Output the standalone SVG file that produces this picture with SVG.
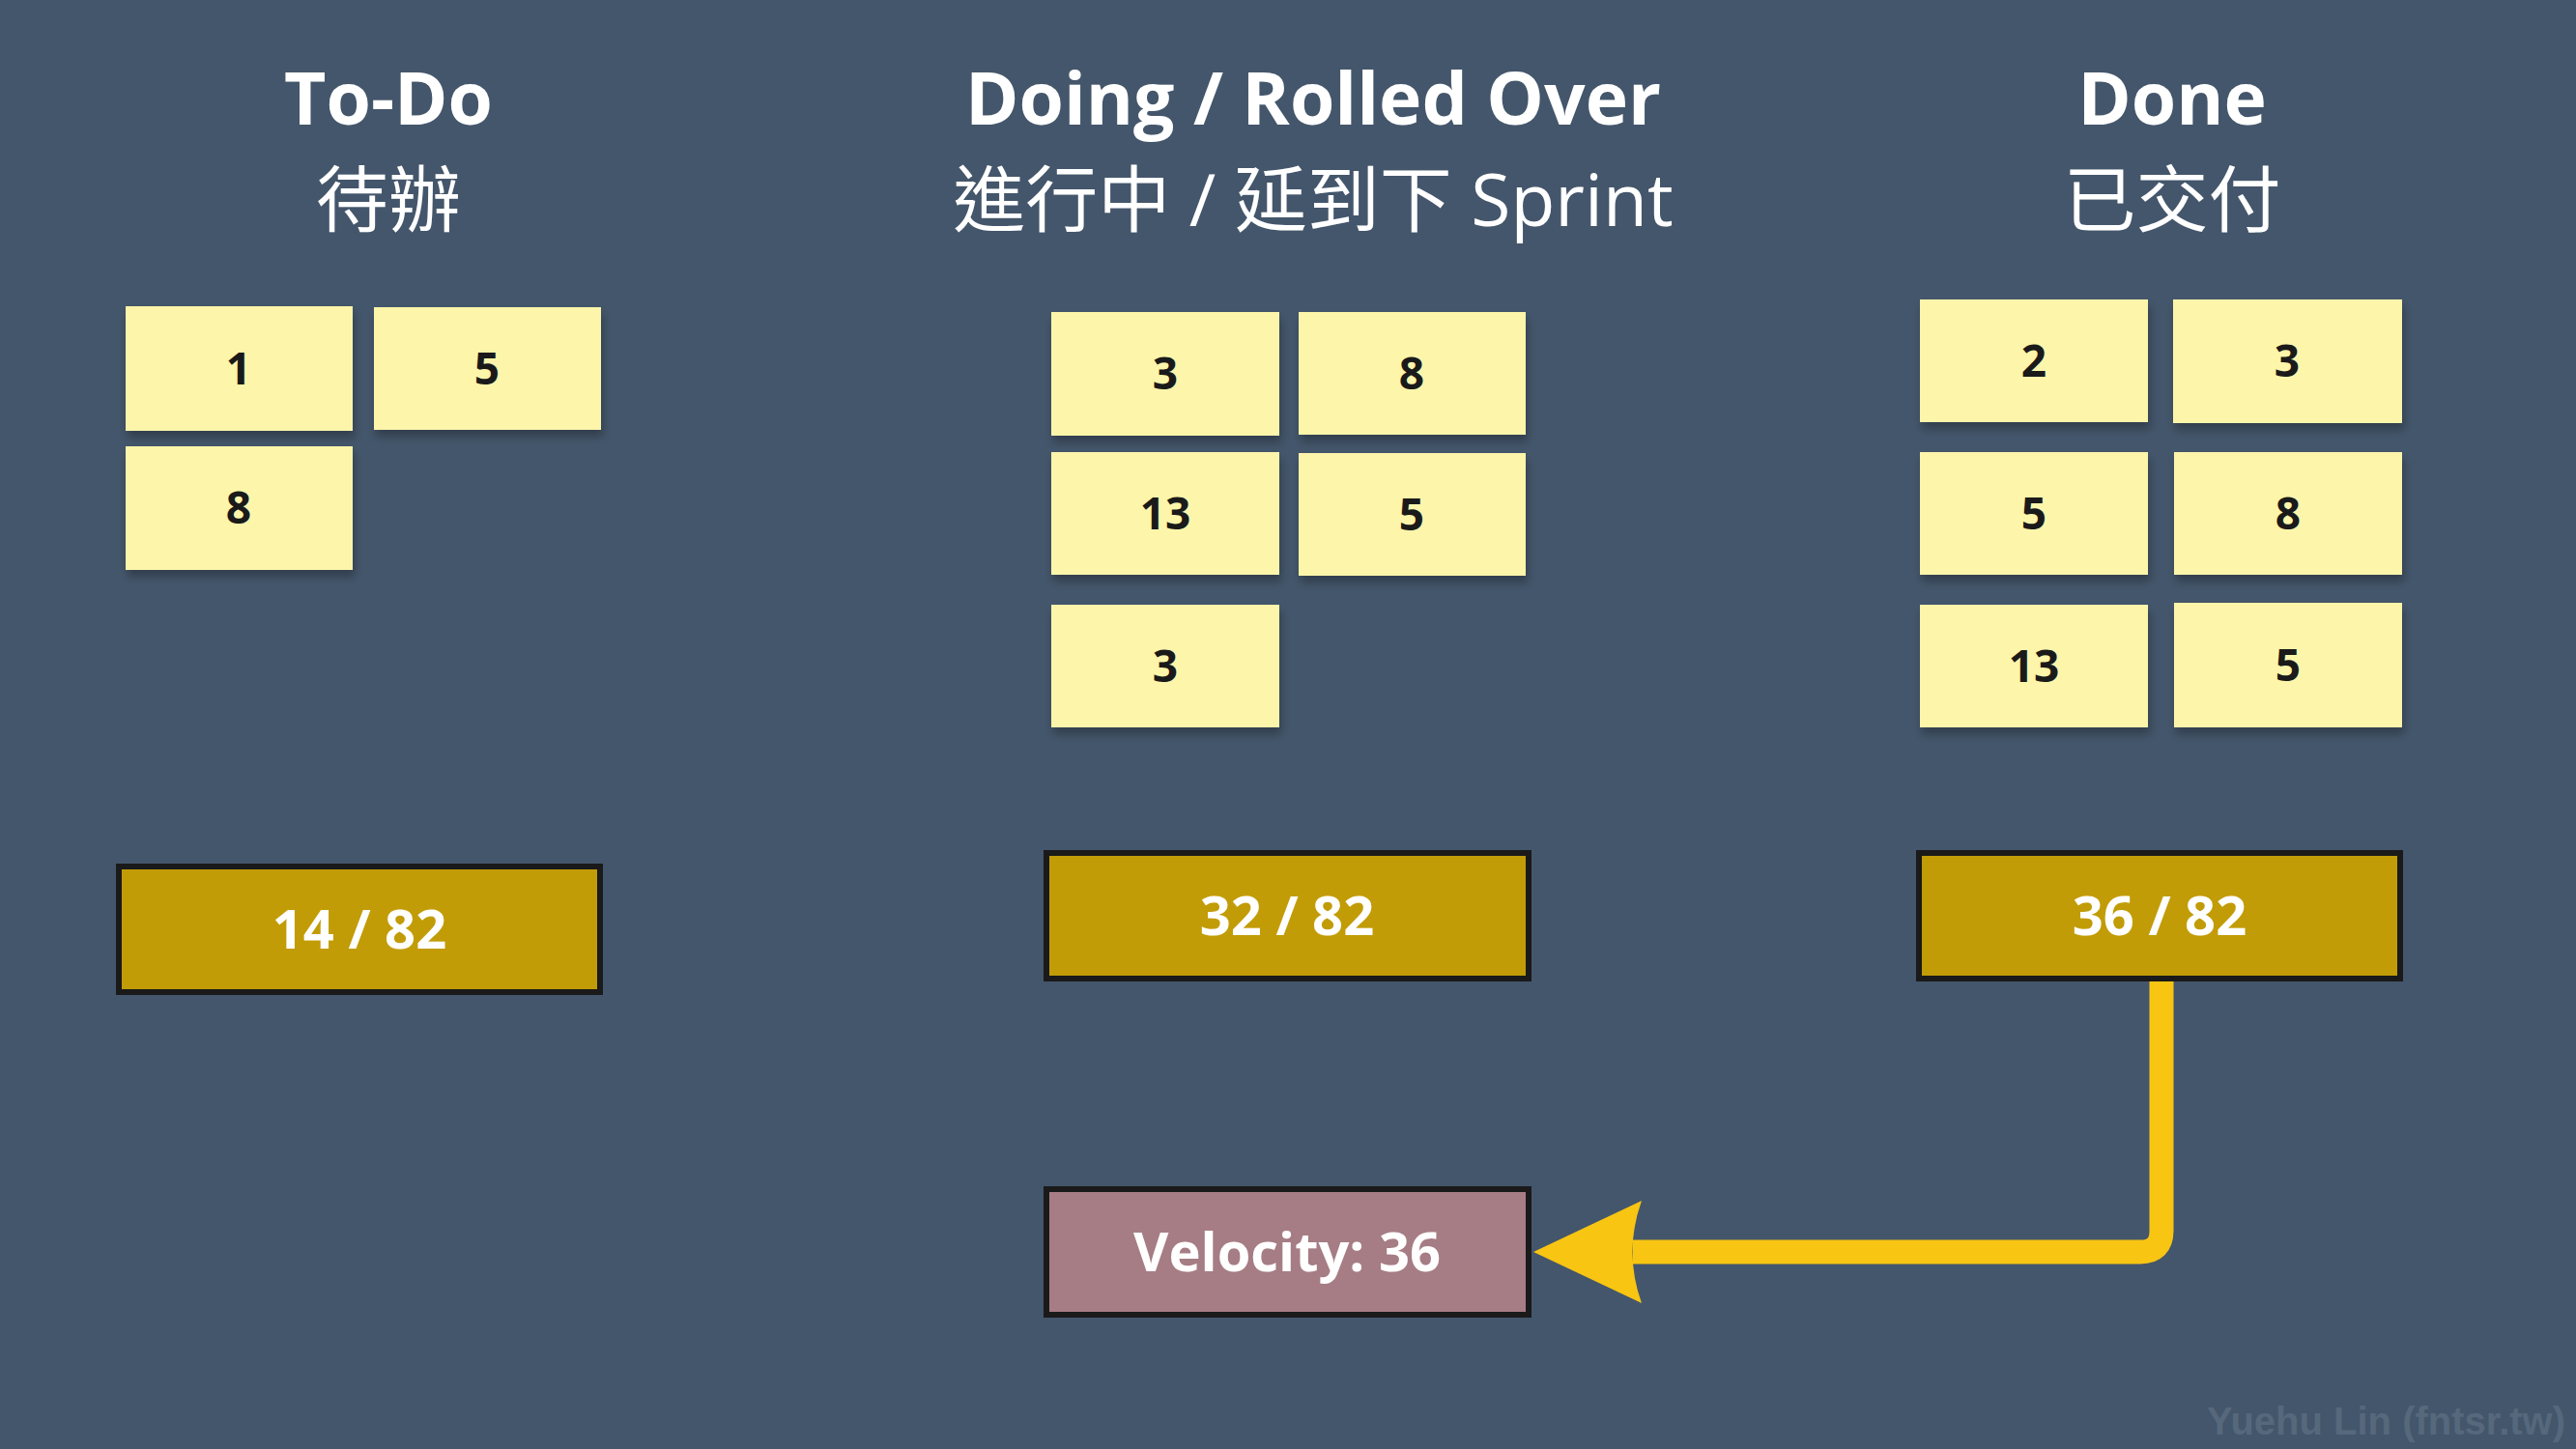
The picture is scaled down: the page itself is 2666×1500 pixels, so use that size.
<svg xmlns="http://www.w3.org/2000/svg" width="2666" height="1500" viewBox="0 0 2666 1500">
<defs>
<style>
.title{font-family:"Open Sans","Noto Sans",sans-serif;font-weight:700;font-size:75px;fill:#ffffff;text-anchor:middle}
.sub{font-family:"Open Sans","Noto Sans CJK TC","Noto Sans",sans-serif;font-weight:400;font-size:75px;fill:#ffffff;text-anchor:middle}
.note rect{fill:#fcf5aa;filter:url(#sh)}
.note text{font-family:"Open Sans","Noto Sans",sans-serif;font-weight:700;font-size:46px;fill:#1a1a1a;text-anchor:middle}
.sum rect{fill:#c29c07;stroke:#1a1a1a;stroke-width:6}
.vel rect{fill:#a67d84;stroke:#1a1a1a;stroke-width:6}
.sum text,.vel text{font-family:"Open Sans","Noto Sans",sans-serif;font-weight:700;font-size:56px;fill:#ffffff;text-anchor:middle}
.wm{font-family:"Liberation Sans",Arial,sans-serif;font-weight:700;font-size:40px;fill:#56687c;text-anchor:end}
</style>
<filter id="sh" x="-10%" y="-10%" width="120%" height="130%">
<feDropShadow dx="2" dy="7" stdDeviation="5" flood-color="#000000" flood-opacity="0.28"/>
</filter>
</defs>
<rect x="0" y="0" width="2666" height="1500" fill="#44566b"/>

<g id="header-todo">
<text class="title" x="402" y="129">To-Do</text>
<text class="sub" x="402" y="234">待辦</text>
</g>
<g id="header-doing">
<text class="title" x="1359" y="129">Doing / Rolled Over</text>
<text class="sub" x="1359" y="234">進行中 / 延到下 Sprint</text>
</g>
<g id="header-done">
<text class="title" x="2248" y="129">Done</text>
<text class="sub" x="2248" y="234">已交付</text>
</g>

<g id="todo-1" class="note"><rect x="130" y="317" width="235" height="129"/><text x="247" y="398">1</text></g>
<g id="todo-5" class="note"><rect x="387" y="318" width="235" height="127"/><text x="504" y="398">5</text></g>
<g id="todo-8" class="note"><rect x="130" y="462" width="235" height="128"/><text x="247" y="542">8</text></g>

<g id="doing-3a" class="note"><rect x="1088" y="323" width="236" height="128"/><text x="1206" y="403">3</text></g>
<g id="doing-8" class="note"><rect x="1344" y="323" width="235" height="127"/><text x="1461" y="403">8</text></g>
<g id="doing-13" class="note"><rect x="1088" y="468" width="236" height="127"/><text x="1206" y="548">13</text></g>
<g id="doing-5" class="note"><rect x="1344" y="469" width="235" height="127"/><text x="1461" y="549">5</text></g>
<g id="doing-3b" class="note"><rect x="1088" y="626" width="236" height="127"/><text x="1206" y="706">3</text></g>

<g id="done-2" class="note"><rect x="1987" y="310" width="236" height="127"/><text x="2105" y="390">2</text></g>
<g id="done-3" class="note"><rect x="2249" y="310" width="237" height="128"/><text x="2367" y="390">3</text></g>
<g id="done-5a" class="note"><rect x="1987" y="468" width="236" height="127"/><text x="2105" y="548">5</text></g>
<g id="done-8" class="note"><rect x="2250" y="468" width="236" height="127"/><text x="2368" y="548">8</text></g>
<g id="done-13" class="note"><rect x="1987" y="626" width="236" height="127"/><text x="2105" y="706">13</text></g>
<g id="done-5b" class="note"><rect x="2250" y="624" width="236" height="129"/><text x="2368" y="705">5</text></g>

<g id="sum-todo" class="sum"><rect x="123" y="897" width="498" height="130"/><text x="372" y="982">14 / 82</text></g>
<g id="sum-doing" class="sum"><rect x="1083" y="883" width="499" height="130"/><text x="1332" y="968">32 / 82</text></g>
<g id="sum-done" class="sum"><rect x="1986" y="883" width="498" height="130"/><text x="2235" y="968">36 / 82</text></g>

<g id="velocity" class="vel"><rect x="1083" y="1231" width="499" height="130"/><text x="1332" y="1316">Velocity: 36</text></g>

<g id="connectors">
<path d="M2237,1016 V1274 Q2237,1296 2215,1296 H1690" fill="none" stroke="#f8c513" stroke-width="25"/>
<path d="M1587,1296 L1699,1243 Q1680,1296 1699,1349 Z" fill="#f8c513"/>
</g>

<text class="wm" x="2655" y="1485">Yuehu Lin (fntsr.tw)</text>
</svg>
